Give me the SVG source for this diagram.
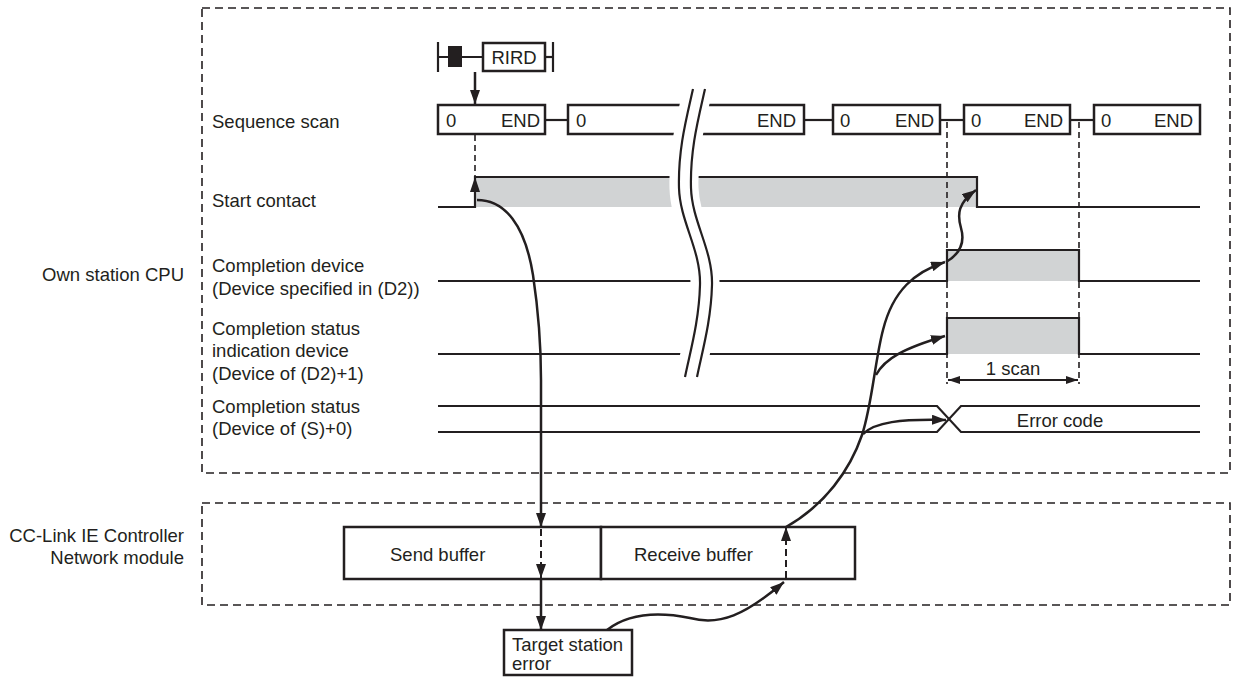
<svg xmlns="http://www.w3.org/2000/svg" width="1233" height="677" viewBox="0 0 1233 677">
<style>
text { font-family: "Liberation Sans", Arial, sans-serif; font-size: 18.5px; fill: #231f20; }
.end { text-anchor: end; }
.mid { text-anchor: middle; }
.ln { fill: none; stroke: #231f20; stroke-width: 2.2; }
.box { fill: #ffffff; stroke: #231f20; stroke-width: 2.5; }
.frame { fill: none; stroke: #231f20; stroke-width: 1.6; stroke-dasharray: 8 5; }
.vd { fill: none; stroke: #231f20; stroke-width: 1.6; stroke-dasharray: 6 4; }
.gray { fill: #d1d3d4; }
.conn { fill: none; stroke: #231f20; stroke-width: 2.5; }
.dconn { fill: none; stroke: #231f20; stroke-width: 2; stroke-dasharray: 7 4; }
</style>
<defs>
<marker id="ah" markerUnits="userSpaceOnUse" viewBox="0 0 14 10" markerWidth="14" markerHeight="10" refX="14" refY="5" orient="auto-start-reverse"><path d="M0,0 L14,5 L0,10 z" fill="#231f20"/></marker>
<marker id="ahs" markerUnits="userSpaceOnUse" viewBox="0 0 12 8" markerWidth="12" markerHeight="8" refX="12" refY="4" orient="auto-start-reverse"><path d="M0,0 L12,4 L0,8 z" fill="#231f20"/></marker>
<path id="brk" d="M693,89 C686,120 678,150 679,188 C680,222 701,250 700,285 C699,322 690,352 685,377"/>
</defs>
<rect width="1233" height="677" fill="#ffffff"/>

<g id="frames">
<rect class="frame" x="202" y="8" width="1028" height="465"/>
<rect class="frame" x="202" y="503" width="1028" height="102"/>
</g>

<g id="labels">
<text x="184" y="281" class="end">Own station CPU</text>
<text x="184" y="542" class="end">CC-Link IE Controller</text>
<text x="184" y="564" class="end">Network module</text>
<text x="212" y="128">Sequence scan</text>
<text x="212" y="207">Start contact</text>
<text x="212" y="272">Completion device</text>
<text x="212" y="295">(Device specified in (D2))</text>
<text x="212" y="335">Completion status</text>
<text x="212" y="357">indication device</text>
<text x="212" y="380">(Device of (D2)+1)</text>
<text x="212" y="413">Completion status</text>
<text x="212" y="435">(Device of (S)+0)</text>
</g>

<g id="rird">
<line class="ln" x1="438" y1="42" x2="438" y2="72" stroke-width="2.5"/>
<line class="ln" x1="438" y1="57" x2="483" y2="57"/>
<rect x="448" y="46" width="14" height="21" fill="#231f20"/>
<rect class="box" x="483" y="43" width="62" height="28"/>
<text x="514" y="64" class="mid">RIRD</text>
<line class="ln" x1="545" y1="57" x2="553" y2="57"/>
<line class="ln" x1="553" y1="42" x2="553" y2="72" stroke-width="2.5"/>
</g>

<g id="signals">
<rect class="gray" x="475" y="177" width="502" height="30"/>
<rect class="gray" x="947" y="250" width="132" height="31"/>
<rect class="gray" x="947" y="318" width="132" height="36"/>
<path class="ln" d="M438,207 H475 V177 H977 V207 H1200"/>
<path class="ln" d="M438,281 H947 V250 H1079 V281 H1200"/>
<path class="ln" d="M438,354 H947 V318 H1079 V354 H1200"/>
<path class="ln" d="M438,406 H937 L961,432 H1200"/>
<path class="ln" d="M438,432 H937 L961,406 H1200"/>
<polygon points="475,177 470,192 480,192" fill="#231f20"/>
</g>

<g id="scan1">
<rect class="box" x="438" y="105" width="107" height="29"/>
<text x="446" y="127">0</text>
<text x="540" y="127" class="end">END</text>
</g>
<line class="ln" x1="545" y1="120" x2="568" y2="120"/>
<g id="scan2">
<rect class="box" x="568" y="105" width="236" height="29"/>
<text x="576" y="127">0</text>
<text x="796" y="127" class="end">END</text>
</g>
<line class="ln" x1="804" y1="120" x2="833" y2="120"/>
<g id="scan3">
<rect class="box" x="833" y="105" width="107" height="29"/>
<text x="840" y="127">0</text>
<text x="934" y="127" class="end">END</text>
</g>
<line class="ln" x1="940" y1="120" x2="964" y2="120"/>
<g id="scan4">
<rect class="box" x="964" y="105" width="106" height="29"/>
<text x="971" y="127">0</text>
<text x="1063" y="127" class="end">END</text>
</g>
<line class="ln" x1="1070" y1="120" x2="1094" y2="120"/>
<g id="scan5">
<rect class="box" x="1094" y="105" width="106" height="29"/>
<text x="1101" y="127">0</text>
<text x="1193" y="127" class="end">END</text>
</g>

<g id="break">
<use href="#brk" transform="translate(5,0)" fill="none" stroke="#ffffff" stroke-width="29"/>
<use href="#brk" fill="none" stroke="#231f20" stroke-width="2.2"/>
<use href="#brk" transform="translate(12,0)" fill="none" stroke="#231f20" stroke-width="2.2"/>
</g>

<g id="timing-marks">
<line class="vd" x1="475" y1="135" x2="475" y2="176"/>
<line class="vd" x1="947" y1="122" x2="947" y2="384"/>
<line class="vd" x1="1079" y1="122" x2="1079" y2="384"/>
<line class="ln" x1="948" y1="380" x2="1078" y2="380" stroke-width="1.8" marker-start="url(#ahs)" marker-end="url(#ahs)"/>
<text x="1013" y="375" class="mid">1 scan</text>
<text x="1060" y="427" class="mid">Error code</text>
</g>

<g id="send-buffer">
<rect class="box" x="344" y="527" width="257" height="52"/>
<text x="390" y="561">Send buffer</text>
</g>
<g id="receive-buffer">
<rect class="box" x="601" y="527" width="254" height="52"/>
<text x="634" y="561">Receive buffer</text>
</g>
<g id="target-station">
<rect class="box" x="504" y="630" width="128" height="45"/>
<text x="512" y="651">Target station</text>
<text x="512" y="670">error</text>
</g>

<g id="connectors">
<path class="conn" d="M475,72 V104" marker-end="url(#ah)"/>
<path class="conn" d="M477,200 C505,200 525,225 533,275 C539,315 541,350 541,380 L541,527" marker-end="url(#ah)"/>
<path class="dconn" d="M541,529 V578" marker-end="url(#ah)"/>
<path class="conn" d="M541,580 V630" marker-end="url(#ah)"/>
<path class="conn" d="M607,630 C630,612 660,612 690,618 C720,626 745,615 784,582" marker-end="url(#ah)"/>
<path class="dconn" d="M786,578 V527" marker-end="url(#ah)"/>
<path class="conn" d="M786,527 C825,505 850,470 862,435 C872,405 875,360 883,330 C893,290 915,272 945,262" marker-end="url(#ah)"/>
<path class="conn" d="M876,375 C885,358 905,348 945,336" marker-end="url(#ah)"/>
<path class="conn" d="M863,434 C875,422 900,419 946,420" marker-end="url(#ah)"/>
<path class="conn" d="M946,262 C960,254 965,242 961,228 C957,214 958,203 976,190" marker-end="url(#ah)"/>
</g>
</svg>
